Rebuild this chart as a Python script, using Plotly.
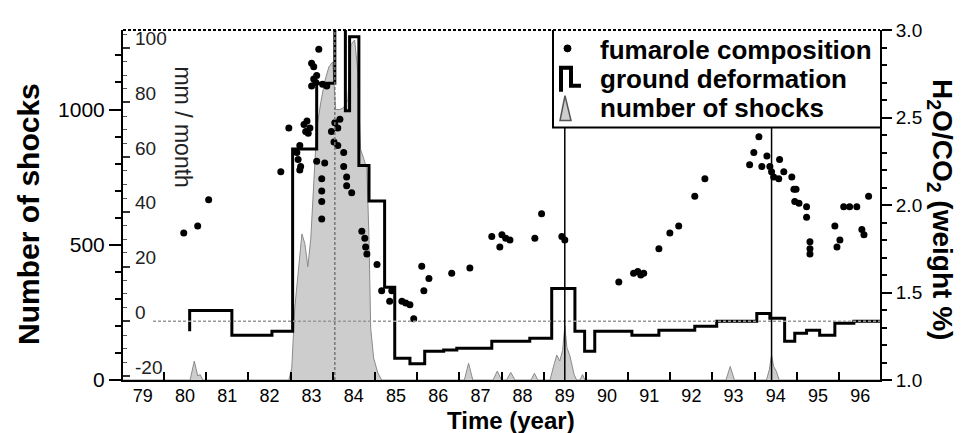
import plotly.graph_objects as go

# ---------------- data ----------------
year_labels = [str(y) for y in range(79, 97)]
year_label_pos = [1979.5 + i for i in range(18)]
year_ticks = [1980 + i for i in range(17)]

# fumarole composition (H2O/CO2 weight %)
fum_year = [1980.47, 1980.80, 1981.06, 1982.77, 1982.96, 1983.15, 1983.18, 1983.22, 1983.22, 1983.24,
            1983.32, 1983.36, 1983.39, 1983.42, 1983.46, 1983.50, 1983.55, 1983.67, 1983.55, 1983.62,
            1983.60, 1983.50, 1983.76, 1983.86, 1983.62, 1983.81, 1983.74, 1983.74, 1983.74, 1983.74,
            1983.97, 1984.05, 1984.12, 1984.17, 1984.03, 1984.12, 1984.26, 1984.26, 1984.33, 1984.33,
            1984.45, 1984.69, 1984.76, 1984.78, 1984.81, 1985.05, 1985.16, 1985.40, 1985.35, 1985.64,
            1985.73, 1985.83, 1985.92, 1986.11, 1986.28, 1986.16, 1986.82, 1987.25, 1987.77, 1988.01,
            1988.10, 1988.20, 1987.96, 1988.79, 1988.95, 1989.43, 1989.50, 1990.78, 1991.13, 1991.23,
            1991.30, 1991.37, 1991.73, 1991.99, 1992.20, 1992.58, 1992.82, 1993.88, 1993.98, 1994.10,
            1994.17, 1994.29, 1994.36, 1994.40, 1994.45, 1994.59, 1994.69, 1994.57, 1994.88, 1994.93,
            1994.98, 1994.95, 1995.05, 1995.23, 1995.23, 1995.31, 1995.31, 1995.31, 1995.90, 1995.95,
            1996.02, 1996.11, 1996.25, 1996.42, 1996.54, 1996.59, 1996.70]
fum_ratio = [1.84, 1.88, 2.03, 2.19, 2.44, 2.30, 2.26, 2.34, 2.20, 2.22,
             2.46, 2.42, 2.48, 2.41, 2.44, 2.81, 2.79, 2.89, 2.72, 2.74,
             2.70, 2.68, 2.69, 2.68, 2.25, 2.24, 2.15, 2.08, 2.02, 1.92,
             2.42, 2.47, 2.44, 2.49, 2.36, 2.34, 2.30, 2.22, 2.16, 2.11,
             2.07, 1.85, 1.81, 1.76, 1.72, 1.66, 1.51, 1.51, 1.45, 1.45,
             1.44, 1.43, 1.35, 1.65, 1.58, 1.51, 1.61, 1.64, 1.82, 1.83,
             1.81, 1.80, 1.76, 1.81, 1.95, 1.82, 1.80, 1.56, 1.61, 1.62,
             1.60, 1.61, 1.75, 1.84, 1.88, 2.05, 2.15, 2.23, 2.30, 2.39,
             2.22, 2.28, 2.22, 2.19, 2.16, 2.26, 2.19, 2.15, 2.16, 2.09,
             2.09, 2.02, 2.01, 1.99, 1.93, 1.79, 1.75, 1.72, 1.88, 1.76,
             1.80, 1.99, 1.99, 1.99, 1.86, 1.83, 2.05]

# ground deformation (mm / month), step function: start of each step and its value
deform_year = [1980.61, 1980.61, 1981.61, 1982.56, 1983.05, 1983.62, 1984.05, 1984.30, 1984.40, 1984.62,
               1984.86, 1985.23, 1985.47, 1985.83, 1986.18, 1986.63, 1986.94, 1987.77, 1988.67, 1989.19,
               1989.74, 1989.97, 1990.21, 1991.09, 1991.73, 1992.58, 1993.10, 1994.05, 1994.36, 1994.71,
               1994.95, 1995.23, 1995.54, 1995.90, 1996.35, 1996.97]
deform_mm = [-3.6, 4, -5.1, -3.6, 63, 87, 120, 77, 104, 57,
             44, 12.5, -13.5, -15.5, -10.9, -10.5, -9.8, -7.3, -6.2, 12,
             -3.6, -10.9, -3.6, -5.1, -3.3, -1.8, 0, 2.9, 1.1, -7.3,
             -4.4, -3.3, -5.1, -0.7, 0, 0]

# number of shocks
shock_year = [1979.03, 1980.62, 1980.72, 1980.80, 1980.86, 1980.92,
              1982.96, 1983.03, 1983.10, 1983.20, 1983.27, 1983.34, 1983.41, 1983.48, 1983.55, 1983.62,
              1983.72, 1983.81, 1983.91, 1984.00, 1984.07, 1984.17, 1984.26, 1984.36, 1984.43, 1984.52,
              1984.59, 1984.66, 1984.74, 1984.81, 1984.86, 1984.90, 1984.97, 1985.07, 1985.16,
              1987.12, 1987.22, 1987.32, 1987.80, 1987.90, 1988.00, 1988.12, 1988.22, 1988.32,
              1988.70, 1988.78, 1988.86,
              1989.15, 1989.25, 1989.31, 1989.38, 1989.45, 1989.50, 1989.55, 1989.62, 1989.72, 1989.78,
              1989.86, 1989.92, 1989.98, 1993.32, 1993.42, 1993.52,
              1994.28, 1994.35, 1994.40, 1994.45, 1994.52, 1994.58, 1996.97]
shock_n = [0, 0, 70, 15, 20, 0,
           0, 44, 265, 412, 540, 504, 419, 522, 743, 926,
           1029, 1103, 1158, 1176, 1000, 1000, 1007, 1037, 1239, 1257,
           1147, 853, 816, 779, 522, 191, 81, 26, 0,
           0, 62, 0, 0, 33, 0, 0, 28, 0,
           0, 25, 0,
           0, 60, 92, 70, 110, 200, 120, 90, 20, 0,
           0, 20, 0, 0, 50, 0,
           0, 40, 92, 50, 30, 0, 0]

event_years = [1984.05, 1989.5, 1994.4]
mm_labels = [100, 80, 60, 40, 20, 0, -20]

# ---------------- figure ----------------
W, H = 962, 433
L, R, T, B = 115, 90, 20, 61
PW, PH = W - L - R, H - T - B


def px(xp):
    return (xp - L) / PW


def py(yp):
    return (H - B - yp) / PH


FONT = "Liberation Sans, Arial, sans-serif"
NARROW = "Liberation Sans Narrow, Arial Narrow, Liberation Sans, Arial, sans-serif"

fig = go.Figure()

fig.add_trace(go.Scatter(x=shock_year, y=shock_n, mode="lines", fill="tozeroy",
                         line=dict(color="#8a8a8a", width=1), fillcolor="#cdcdcd",
                         xaxis="x", yaxis="y", showlegend=False, hoverinfo="skip"))

fig.add_trace(go.Scatter(x=deform_year, y=deform_mm, mode="lines", line_shape="hv",
                         line=dict(color="black", width=3),
                         xaxis="x", yaxis="y3", showlegend=False))

fig.add_trace(go.Scatter(x=fum_year, y=fum_ratio, mode="markers",
                         marker=dict(color="black", size=7, symbol="circle"),
                         xaxis="x", yaxis="y2", showlegend=False))

fig.update_layout(
    width=W, height=H,
    margin=dict(l=L, r=R, t=T, b=B),
    paper_bgcolor="white", plot_bgcolor="white",
    font=dict(family=FONT, color="black"),
    xaxis=dict(range=[1979.03, 1996.97], showgrid=False, zeroline=False,
               showline=True, linecolor="black", linewidth=2,
               tickmode="array", tickvals=year_label_pos, ticktext=year_labels,
               ticks="", tickfont=dict(family=NARROW, size=18), ticklabelstandoff=-2,
               minor=dict(tickmode="array", tickvals=year_ticks, ticks="inside",
                          ticklen=8, tickwidth=1.5, tickcolor="black")),
    yaxis=dict(range=[0, 1294], showgrid=False, zeroline=False,
               showline=True, linecolor="black", linewidth=2,
               tickvals=[0, 500, 1000], ticks="outside", ticklen=12, tickwidth=2,
               tickcolor="black", tickfont=dict(size=21),
               minor=dict(dtick=100, ticks="outside", ticklen=6, tickwidth=1.5,
                          tickcolor="black")),
    yaxis2=dict(range=[1.0, 3.0], overlaying="y", side="right", anchor="x",
                showgrid=False, zeroline=False, showline=True, linecolor="black",
                linewidth=2, tickvals=[1.0, 1.5, 2.0, 2.5, 3.0], tickformat=".1f",
                ticks="outside", ticklen=10, tickwidth=2, tickcolor="black",
                tickfont=dict(size=19),
                minor=dict(dtick=0.1, ticks="outside", ticklen=5, tickwidth=1.5,
                           tickcolor="black")),
    yaxis3=dict(range=[-21.45, 106.5], overlaying="y", side="left", anchor="x",
                showgrid=False, zeroline=False, showline=False,
                showticklabels=False, tickvals=mm_labels, ticks="inside", ticklen=7,
                tickwidth=1.5, tickcolor="#333",
                minor=dict(dtick=5, ticks="inside", ticklen=4, tickwidth=1,
                           tickcolor="#555")),
)

shapes = []
# dashed top border
shapes.append(dict(type="line", xref="paper", yref="paper", x0=0, x1=1, y0=1, y1=1,
                   line=dict(color="black", width=2, dash="3px,2px")))
# zero deformation reference line
shapes.append(dict(type="line", xref="paper", yref="y3", x0=px(145), x1=1, y0=0, y1=0,
                   line=dict(color="#999", width=1.5, dash="3px,2px")))
# event lines
shapes.append(dict(type="line", xref="x", yref="paper", x0=event_years[0], x1=event_years[0],
                   y0=0, y1=1, line=dict(color="#777", width=1.5, dash="3px,2px")))
for ev in event_years[1:]:
    shapes.append(dict(type="line", xref="x", yref="paper", x0=ev, x1=ev,
                       y0=0, y1=py(118), line=dict(color="black", width=1.5)))
# legend box
shapes.append(dict(type="path", xref="paper", yref="paper",
                   path=f"M {px(545)},1 L {px(545)},{py(118)} L 1,{py(118)}",
                   line=dict(color="black", width=2)))
# legend symbols
shapes.append(dict(type="circle", xref="paper", yref="paper",
                   x0=px(556), x1=px(563), y0=py(42), y1=py(35),
                   fillcolor="black", line=dict(color="black", width=1)))
shapes.append(dict(type="path", xref="paper", yref="paper",
                   path=(f"M {px(553)},{py(82)} L {px(553)},{py(58)} L {px(563)},{py(58)} "
                         f"L {px(563)},{py(76)} L {px(573)},{py(76)}"),
                   line=dict(color="black", width=4)))
shapes.append(dict(type="path", xref="paper", yref="paper",
                   path=(f"M {px(552)},{py(111)} L {px(557)},{py(86)} L {px(563)},{py(111)} Z"),
                   fillcolor="#cdcdcd", line=dict(color="#555", width=1.5)))
fig.update_layout(shapes=shapes)

ann = []
legend_items = ["fumarole composition", "ground deformation", "number of shocks"]
for i, txt in enumerate(legend_items):
    ann.append(dict(xref="paper", yref="paper", x=px(590), y=py(40 + 29 * i),
                    xanchor="left", yanchor="middle", showarrow=False, text=txt,
                    font=dict(size=26, family=FONT, color="black", weight="bold")))
for v in mm_labels:
    ann.append(dict(xref="paper", yref="y3", x=px(125), y=v, yshift=9,
                    xanchor="left", yanchor="middle", showarrow=False, text=str(v),
                    font=dict(size=19, family=NARROW, color="#222")))
ann.append(dict(xref="paper", yref="paper", x=px(175), y=py(117), textangle=90,
                xanchor="center", yanchor="middle",
                showarrow=False, text="mm / month",
                font=dict(size=23, family=NARROW, color="#222")))
ann.append(dict(xref="paper", yref="paper", x=px(21), y=py(205), textangle=-90,
                xanchor="center", yanchor="middle",
                showarrow=False, text="Number of shocks",
                font=dict(size=30, family=FONT, color="black", weight="bold")))
ann.append(dict(xref="paper", yref="paper", x=px(932), y=py(200), textangle=90,
                xanchor="center", yanchor="middle",
                showarrow=False, text="H<sub>2</sub>O/CO<sub>2</sub> (weight %)",
                font=dict(size=28, family=FONT, color="black", weight="bold")))
ann.append(dict(xref="paper", yref="paper", x=px(503), y=py(413),
                xanchor="center", yanchor="middle",
                showarrow=False, text="Time (year)",
                font=dict(size=24, family=FONT, color="black", weight="bold")))
fig.update_layout(annotations=ann)

fig.write_html("out.html")
